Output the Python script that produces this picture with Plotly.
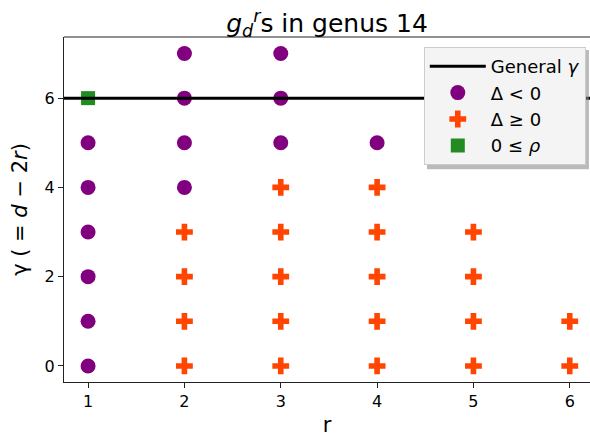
import plotly.graph_objects as go

# Data
r_neg = [1, 1, 1, 1, 1, 1, 2, 2, 2, 2, 3, 3, 3, 4]
g_neg = [0, 1, 2, 3, 4, 5, 4, 5, 6, 7, 5, 6, 7, 5]
r_pos = [2, 2, 2, 2, 3, 3, 3, 3, 3, 4, 4, 4, 4, 4, 5, 5, 5, 5, 6, 6]
g_pos = [0, 1, 2, 3, 0, 1, 2, 3, 4, 0, 1, 2, 3, 4, 0, 1, 2, 3, 0, 1]
r_rho = [1]
g_rho = [6]
general_gamma = 6
x_ticks = [1, 2, 3, 4, 5, 6]
y_ticks = [0, 2, 4, 6]

x_range = [0.75, 6.21]
y_range = [-0.36, 7.37]

FONT = "DejaVu Sans"

fig = go.Figure()
fig.add_trace(go.Scatter(
    x=r_neg, y=g_neg, mode="markers", name="Δ < 0",
    marker=dict(symbol="circle", size=15, color="#800080"),
    legendrank=2, legendgroup="b"))
fig.add_trace(go.Scatter(
    x=r_pos, y=g_pos, mode="markers", name="Δ ≥ 0",
    marker=dict(symbol="cross", size=14, color="#ff4500"),
    legendrank=3, legendgroup="c"))
fig.add_trace(go.Scatter(
    x=r_rho, y=g_rho, mode="markers", name="0 ≤ <i>ρ</i>",
    marker=dict(symbol="square", size=14, color="#228b22"),
    legendrank=4, legendgroup="d"))
fig.add_trace(go.Scatter(
    x=x_range, y=[general_gamma, general_gamma], mode="lines",
    name="General <i>γ</i>",
    line=dict(color="black", width=3),
    legendrank=1, legendgroup="a"))

axis_common = dict(
    showgrid=False, zeroline=False, showline=True, linecolor="#222",
    linewidth=1, ticks="outside", ticklen=5, tickwidth=1, tickcolor="#222",
    tickfont=dict(family=FONT, size=16, color="black"),
    automargin=False,
)

fig.update_layout(
    width=590, height=437,
    margin=dict(l=64, r=0, t=37, b=55),
    plot_bgcolor="white", paper_bgcolor="white",
    font=dict(family=FONT, color="black"),
    title=dict(
        text="<i>g</i><sub><i>d</i></sub><sup><i>r</i></sup>s in genus 14",
        x=0.5, xref="paper", xanchor="center",
        y=1, yref="paper", yanchor="bottom", pad=dict(b=5),
        font=dict(family=FONT, size=25, color="black")),
    xaxis=dict(range=x_range, tickvals=x_ticks,
               title=dict(text="r", font=dict(family=FONT, size=21), standoff=15),
               **axis_common),
    yaxis=dict(range=y_range, tickvals=y_ticks,
               title=dict(text="γ ( = <i>d</i> − 2<i>r</i>)",
                          font=dict(family=FONT, size=21), standoff=11),
               **axis_common),
    legend=dict(
        x=0.992, y=0.971, xanchor="right", yanchor="top",
        bgcolor="rgba(244,244,244,1)", bordercolor="#cccccc", borderwidth=1,
        font=dict(family=FONT, size=18, color="black"),
        traceorder="grouped", tracegroupgap=0, itemwidth=56,
    ),
)

# top spine
fig.add_shape(type="line", xref="paper", yref="paper", x0=0, x1=1, y0=1, y1=1,
              line=dict(color="#222", width=1))
# legend shadow
fig.add_shape(type="rect", xref="paper", yref="paper", layer="above",
              x0=0.690, x1=0.998, y0=0.617, y1=0.962,
              line=dict(width=0), fillcolor="rgba(140,140,140,0.6)")

fig.write_html("out.html", config={"displayModeBar": False},
               post_script="document.body.style.margin='0';document.body.style.overflow='hidden';")
